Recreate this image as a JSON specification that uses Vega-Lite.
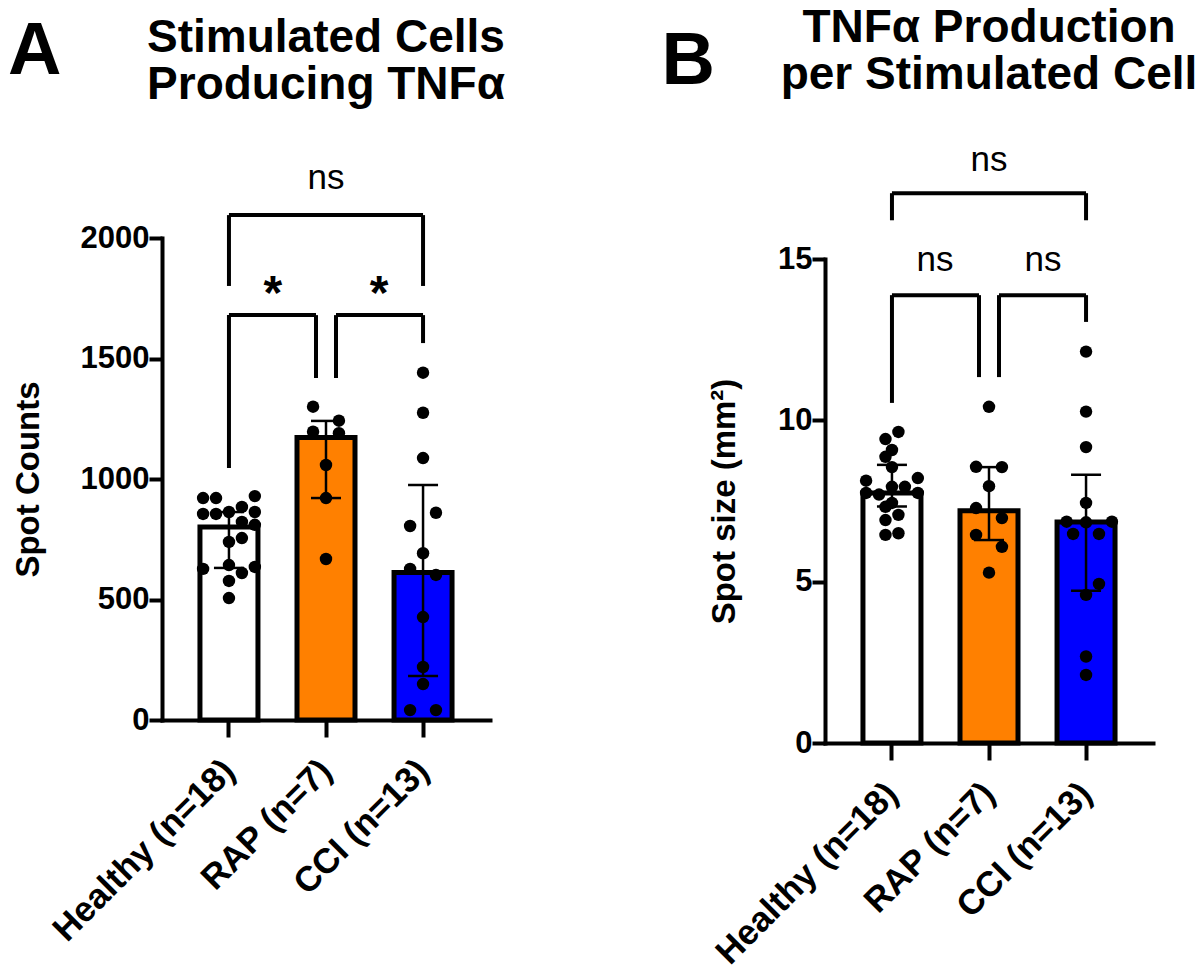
{
  "$schema": "https://vega.github.io/schema/vega-lite/v6.json",
  "padding": {"left": 8, "top": 3, "right": 5, "bottom": 5},
  "background": "white",
  "datasets": {
    "barsA": [
      {"group": "Healthy (n=18)", "median": 801, "lo": 631, "hi": 863},
      {"group": "RAP (n=7)", "median": 1172, "lo": 921, "hi": 1241},
      {"group": "CCI (n=13)", "median": 612, "lo": 183, "hi": 975}
    ],
    "pointsA": [
      {"group": "Healthy (n=18)", "value": 921, "col": -4},
      {"group": "Healthy (n=18)", "value": 921, "col": -2},
      {"group": "Healthy (n=18)", "value": 929, "col": 4},
      {"group": "Healthy (n=18)", "value": 855, "col": -4},
      {"group": "Healthy (n=18)", "value": 855, "col": -2},
      {"group": "Healthy (n=18)", "value": 863, "col": 0},
      {"group": "Healthy (n=18)", "value": 884, "col": 2},
      {"group": "Healthy (n=18)", "value": 863, "col": 4},
      {"group": "Healthy (n=18)", "value": 822, "col": 2},
      {"group": "Healthy (n=18)", "value": 810, "col": 4},
      {"group": "Healthy (n=18)", "value": 739, "col": 0},
      {"group": "Healthy (n=18)", "value": 755, "col": 2},
      {"group": "Healthy (n=18)", "value": 627, "col": -4},
      {"group": "Healthy (n=18)", "value": 643, "col": 0},
      {"group": "Healthy (n=18)", "value": 610, "col": 2},
      {"group": "Healthy (n=18)", "value": 635, "col": 4},
      {"group": "Healthy (n=18)", "value": 577, "col": 0},
      {"group": "Healthy (n=18)", "value": 506, "col": 0},
      {"group": "RAP (n=7)", "value": 1300, "col": -2},
      {"group": "RAP (n=7)", "value": 1242, "col": 2},
      {"group": "RAP (n=7)", "value": 1196, "col": -2},
      {"group": "RAP (n=7)", "value": 1190, "col": 2},
      {"group": "RAP (n=7)", "value": 1058, "col": 0},
      {"group": "RAP (n=7)", "value": 921, "col": 0},
      {"group": "RAP (n=7)", "value": 668, "col": 0},
      {"group": "CCI (n=13)", "value": 1441, "col": 0},
      {"group": "CCI (n=13)", "value": 1275, "col": 0},
      {"group": "CCI (n=13)", "value": 1087, "col": 0},
      {"group": "CCI (n=13)", "value": 860, "col": 2},
      {"group": "CCI (n=13)", "value": 805, "col": -2},
      {"group": "CCI (n=13)", "value": 692, "col": 0},
      {"group": "CCI (n=13)", "value": 627, "col": -2},
      {"group": "CCI (n=13)", "value": 602, "col": 2},
      {"group": "CCI (n=13)", "value": 427, "col": 0},
      {"group": "CCI (n=13)", "value": 220, "col": 0},
      {"group": "CCI (n=13)", "value": 149, "col": 0},
      {"group": "CCI (n=13)", "value": 41, "col": -2},
      {"group": "CCI (n=13)", "value": 41, "col": 2}
    ],
    "hlinesA": [
      {"pair": "H-C", "group": "Healthy (n=18)", "group2": "CCI (n=13)", "top": 2095},
      {"pair": "H-R", "group": "Healthy (n=18)", "group2": "RAP (n=7)", "top": 1680},
      {"pair": "R-C", "group": "RAP (n=7)", "group2": "CCI (n=13)", "top": 1680}
    ],
    "vlinesA": [
      {"pair": "H-C", "group": "Healthy (n=18)", "top": 2095, "end": 1801},
      {"pair": "H-C", "group": "CCI (n=13)", "top": 2095, "end": 1801},
      {"pair": "H-R", "group": "Healthy (n=18)", "top": 1680, "end": 1046},
      {"pair": "H-R", "group": "RAP (n=7)", "top": 1680, "end": 1419},
      {"pair": "R-C", "group": "RAP (n=7)", "top": 1680, "end": 1419},
      {"pair": "R-C", "group": "CCI (n=13)", "top": 1680, "end": 1564}
    ],
    "labelsA": [
      {"pair": "H-C", "group": "RAP (n=7)", "label": "ns", "y": 2249},
      {"pair": "H-R", "group": "Healthy (n=18)", "label": "*", "y": 1805},
      {"pair": "R-C", "group": "CCI (n=13)", "label": "*", "y": 1805}
    ],
    "barsB": [
      {"group": "Healthy (n=18)", "median": 7.75, "lo": 7.33, "hi": 8.62},
      {"group": "RAP (n=7)", "median": 7.2, "lo": 6.29, "hi": 8.55},
      {"group": "CCI (n=13)", "median": 6.85, "lo": 4.72, "hi": 8.31}
    ],
    "pointsB": [
      {"group": "Healthy (n=18)", "value": 9.64, "col": 1},
      {"group": "Healthy (n=18)", "value": 9.42, "col": -1},
      {"group": "Healthy (n=18)", "value": 9.08, "col": 0},
      {"group": "Healthy (n=18)", "value": 8.87, "col": -1},
      {"group": "Healthy (n=18)", "value": 8.55, "col": 0},
      {"group": "Healthy (n=18)", "value": 8.21, "col": 4},
      {"group": "Healthy (n=18)", "value": 8.13, "col": -4},
      {"group": "Healthy (n=18)", "value": 7.94, "col": 0},
      {"group": "Healthy (n=18)", "value": 7.94, "col": 2},
      {"group": "Healthy (n=18)", "value": 7.75, "col": -4},
      {"group": "Healthy (n=18)", "value": 7.75, "col": 4},
      {"group": "Healthy (n=18)", "value": 7.7, "col": -2},
      {"group": "Healthy (n=18)", "value": 7.44, "col": 0},
      {"group": "Healthy (n=18)", "value": 7.32, "col": -1},
      {"group": "Healthy (n=18)", "value": 7.07, "col": 1},
      {"group": "Healthy (n=18)", "value": 6.91, "col": -1},
      {"group": "Healthy (n=18)", "value": 6.5, "col": 1},
      {"group": "Healthy (n=18)", "value": 6.45, "col": -1},
      {"group": "RAP (n=7)", "value": 10.42, "col": 0},
      {"group": "RAP (n=7)", "value": 8.56, "col": -2},
      {"group": "RAP (n=7)", "value": 8.55, "col": 2},
      {"group": "RAP (n=7)", "value": 7.96, "col": 0},
      {"group": "RAP (n=7)", "value": 7.28, "col": -2},
      {"group": "RAP (n=7)", "value": 6.97, "col": 2},
      {"group": "RAP (n=7)", "value": 6.45, "col": -2},
      {"group": "RAP (n=7)", "value": 6.08, "col": 2},
      {"group": "RAP (n=7)", "value": 5.28, "col": 0},
      {"group": "CCI (n=13)", "value": 12.13, "col": 0},
      {"group": "CCI (n=13)", "value": 10.27, "col": 0},
      {"group": "CCI (n=13)", "value": 9.17, "col": 0},
      {"group": "CCI (n=13)", "value": 7.44, "col": 0},
      {"group": "CCI (n=13)", "value": 6.86, "col": -3},
      {"group": "CCI (n=13)", "value": 6.84, "col": 0},
      {"group": "CCI (n=13)", "value": 6.86, "col": 4},
      {"group": "CCI (n=13)", "value": 6.48, "col": -2},
      {"group": "CCI (n=13)", "value": 6.48, "col": 2},
      {"group": "CCI (n=13)", "value": 4.93, "col": 2},
      {"group": "CCI (n=13)", "value": 4.59, "col": 0},
      {"group": "CCI (n=13)", "value": 2.68, "col": 0},
      {"group": "CCI (n=13)", "value": 2.11, "col": 0}
    ],
    "hlinesB": [
      {"pair": "H-C", "group": "Healthy (n=18)", "group2": "CCI (n=13)", "top": 17.04},
      {"pair": "H-R", "group": "Healthy (n=18)", "group2": "RAP (n=7)", "top": 13.88},
      {"pair": "R-C", "group": "RAP (n=7)", "group2": "CCI (n=13)", "top": 13.88}
    ],
    "vlinesB": [
      {"pair": "H-C", "group": "Healthy (n=18)", "top": 17.04, "end": 16.2},
      {"pair": "H-C", "group": "CCI (n=13)", "top": 17.04, "end": 16.2},
      {"pair": "H-R", "group": "Healthy (n=18)", "top": 13.88, "end": 10.54},
      {"pair": "H-R", "group": "RAP (n=7)", "top": 13.88, "end": 11.34},
      {"pair": "R-C", "group": "RAP (n=7)", "top": 13.88, "end": 11.34},
      {"pair": "R-C", "group": "CCI (n=13)", "top": 13.88, "end": 13.05}
    ],
    "labelsB": [
      {"pair": "H-C", "group": "RAP (n=7)", "label": "ns", "y": 18.07},
      {"pair": "H-R", "group": "Healthy (n=18)", "label": "ns", "y": 14.97},
      {"pair": "R-C", "group": "CCI (n=13)", "label": "ns", "y": 14.97}
    ],
    "empty": []
  },
  "hconcat": [
    {
      "title": {"text": "A", "anchor": "start", "frame": "bounds", "fontSize": 74, "offset": -87, "dx": -4},
      "spacing": 0,
      "vconcat": [
        {"data": {"name": "empty"}, "mark": {"type": "point", "opacity": 0}, "width": 328, "height": 11},
        {
          "title": {"text": ["Stimulated Cells", "Producing TNFα"], "anchor": "middle", "frame": "group", "fontSize": 46, "lineHeight": 47, "offset": 52},
          "width": 328,
          "height": 482,
          "encoding": {
            "x": {
              "field": "group",
              "type": "nominal",
              "scale": {"domain": ["Healthy (n=18)", "RAP (n=7)", "CCI (n=13)"], "paddingInner": 0.4, "paddingOuter": 0.39},
              "axis": {"title": null}
            }
          },
          "layer": [
            {
              "data": {"name": "barsA"},
              "mark": {"type": "bar", "stroke": "black", "strokeWidth": 5, "width": 58},
              "encoding": {
                "y": {
                  "field": "median",
                  "type": "quantitative",
                  "scale": {"domain": [0, 2000], "nice": false},
                  "axis": {"values": [0, 500, 1000, 1500, 2000], "format": "d", "title": "Spot Counts", "titlePadding": 35}
                },
                "fill": {
                  "field": "group",
                  "type": "nominal",
                  "scale": {"domain": ["Healthy (n=18)", "RAP (n=7)", "CCI (n=13)"], "range": ["#ffffff", "#ff8000", "#0000ff"]},
                  "legend": null
                }
              }
            },
            {
              "data": {"name": "pointsA"},
              "mark": {"type": "circle", "size": 155, "color": "black", "opacity": 1},
              "encoding": {
                "y": {"field": "value", "type": "quantitative"},
                "xOffset": {"field": "col", "type": "quantitative", "scale": {"domain": [-4.5, 4.5]}}
              }
            },
            {
              "data": {"name": "barsA"},
              "mark": {"type": "rule", "color": "black", "strokeWidth": 2.5},
              "encoding": {"y": {"field": "lo", "type": "quantitative"}, "y2": {"field": "hi"}}
            },
            {
              "data": {"name": "barsA"},
              "mark": {"type": "tick", "color": "black", "size": 30, "thickness": 2.5, "opacity": 1},
              "encoding": {"y": {"field": "lo", "type": "quantitative"}}
            },
            {
              "data": {"name": "barsA"},
              "mark": {"type": "tick", "color": "black", "size": 30, "thickness": 2.5, "opacity": 1},
              "encoding": {"y": {"field": "hi", "type": "quantitative"}}
            },
            {
              "data": {"name": "hlinesA"},
              "transform": [{"filter": "datum.pair == 'H-C'"}],
              "mark": {"type": "rule", "color": "black", "strokeWidth": 4},
              "encoding": {"x2": {"field": "group2"}, "y": {"field": "top", "type": "quantitative"}}
            },
            {
              "data": {"name": "hlinesA"},
              "transform": [{"filter": "datum.pair == 'H-R'"}],
              "mark": {"type": "rule", "color": "black", "strokeWidth": 4, "x2Offset": -10},
              "encoding": {"x2": {"field": "group2"}, "y": {"field": "top", "type": "quantitative"}}
            },
            {
              "data": {"name": "hlinesA"},
              "transform": [{"filter": "datum.pair == 'R-C'"}],
              "mark": {"type": "rule", "color": "black", "strokeWidth": 4, "xOffset": 10},
              "encoding": {"x2": {"field": "group2"}, "y": {"field": "top", "type": "quantitative"}}
            },
            {
              "data": {"name": "vlinesA"},
              "transform": [{"filter": "datum.group != 'RAP (n=7)'"}],
              "mark": {"type": "rule", "color": "black", "strokeWidth": 4},
              "encoding": {"y": {"field": "top", "type": "quantitative"}, "y2": {"field": "end"}}
            },
            {
              "data": {"name": "vlinesA"},
              "transform": [{"filter": "datum.group == 'RAP (n=7)' && datum.pair == 'H-R'"}],
              "mark": {"type": "rule", "color": "black", "strokeWidth": 4, "xOffset": -10},
              "encoding": {"y": {"field": "top", "type": "quantitative"}, "y2": {"field": "end"}}
            },
            {
              "data": {"name": "vlinesA"},
              "transform": [{"filter": "datum.group == 'RAP (n=7)' && datum.pair == 'R-C'"}],
              "mark": {"type": "rule", "color": "black", "strokeWidth": 4, "xOffset": 10},
              "encoding": {"y": {"field": "top", "type": "quantitative"}, "y2": {"field": "end"}}
            },
            {
              "data": {"name": "labelsA"},
              "transform": [{"filter": "datum.pair == 'H-C'"}],
              "mark": {"type": "text", "fontSize": 35, "fontWeight": "normal", "baseline": "middle", "color": "black"},
              "encoding": {"y": {"field": "y", "type": "quantitative"}, "text": {"field": "label"}}
            },
            {
              "data": {"name": "labelsA"},
              "transform": [{"filter": "datum.pair == 'H-R'"}],
              "mark": {"type": "text", "fontSize": 48, "fontWeight": "bold", "baseline": "middle", "dx": 44, "dy": 10, "color": "black"},
              "encoding": {"y": {"field": "y", "type": "quantitative"}, "text": {"field": "label"}}
            },
            {
              "data": {"name": "labelsA"},
              "transform": [{"filter": "datum.pair == 'R-C'"}],
              "mark": {"type": "text", "fontSize": 48, "fontWeight": "bold", "baseline": "middle", "dx": -44, "dy": 10, "color": "black"},
              "encoding": {"y": {"field": "y", "type": "quantitative"}, "text": {"field": "label"}}
            }
          ]
        }
      ]
    },
    {
      "title": {"text": "B", "anchor": "start", "frame": "bounds", "fontSize": 74, "offset": -97, "dx": -47},
      "spacing": 0,
      "vconcat": [
        {"data": {"name": "empty"}, "mark": {"type": "point", "opacity": 0}, "width": 328, "height": 1},
        {
          "title": {"text": ["TNFα Production", "per Stimulated Cell"], "anchor": "middle", "frame": "group", "fontSize": 46, "lineHeight": 47, "offset": 44},
          "width": 328,
          "height": 484,
          "encoding": {
            "x": {
              "field": "group",
              "type": "nominal",
              "scale": {"domain": ["Healthy (n=18)", "RAP (n=7)", "CCI (n=13)"], "paddingInner": 0.4, "paddingOuter": 0.39},
              "axis": {"title": null}
            }
          },
          "layer": [
            {
              "data": {"name": "barsB"},
              "mark": {"type": "bar", "stroke": "black", "strokeWidth": 5, "width": 58},
              "encoding": {
                "y": {
                  "field": "median",
                  "type": "quantitative",
                  "scale": {"domain": [0, 15], "nice": false},
                  "axis": {"values": [0, 5, 10, 15], "title": "Spot size  (mm²)", "titlePadding": 36}
                },
                "fill": {
                  "field": "group",
                  "type": "nominal",
                  "scale": {"domain": ["Healthy (n=18)", "RAP (n=7)", "CCI (n=13)"], "range": ["#ffffff", "#ff8000", "#0000ff"]},
                  "legend": null
                }
              }
            },
            {
              "data": {"name": "pointsB"},
              "mark": {"type": "circle", "size": 155, "color": "black", "opacity": 1},
              "encoding": {
                "y": {"field": "value", "type": "quantitative"},
                "xOffset": {"field": "col", "type": "quantitative", "scale": {"domain": [-4.5, 4.5]}}
              }
            },
            {
              "data": {"name": "barsB"},
              "mark": {"type": "rule", "color": "black", "strokeWidth": 2.5},
              "encoding": {"y": {"field": "lo", "type": "quantitative"}, "y2": {"field": "hi"}}
            },
            {
              "data": {"name": "barsB"},
              "mark": {"type": "tick", "color": "black", "size": 30, "thickness": 2.5, "opacity": 1},
              "encoding": {"y": {"field": "lo", "type": "quantitative"}}
            },
            {
              "data": {"name": "barsB"},
              "mark": {"type": "tick", "color": "black", "size": 30, "thickness": 2.5, "opacity": 1},
              "encoding": {"y": {"field": "hi", "type": "quantitative"}}
            },
            {
              "data": {"name": "hlinesB"},
              "transform": [{"filter": "datum.pair == 'H-C'"}],
              "mark": {"type": "rule", "color": "black", "strokeWidth": 4},
              "encoding": {"x2": {"field": "group2"}, "y": {"field": "top", "type": "quantitative"}}
            },
            {
              "data": {"name": "hlinesB"},
              "transform": [{"filter": "datum.pair == 'H-R'"}],
              "mark": {"type": "rule", "color": "black", "strokeWidth": 4, "x2Offset": -10},
              "encoding": {"x2": {"field": "group2"}, "y": {"field": "top", "type": "quantitative"}}
            },
            {
              "data": {"name": "hlinesB"},
              "transform": [{"filter": "datum.pair == 'R-C'"}],
              "mark": {"type": "rule", "color": "black", "strokeWidth": 4, "xOffset": 10},
              "encoding": {"x2": {"field": "group2"}, "y": {"field": "top", "type": "quantitative"}}
            },
            {
              "data": {"name": "vlinesB"},
              "transform": [{"filter": "datum.group != 'RAP (n=7)'"}],
              "mark": {"type": "rule", "color": "black", "strokeWidth": 4},
              "encoding": {"y": {"field": "top", "type": "quantitative"}, "y2": {"field": "end"}}
            },
            {
              "data": {"name": "vlinesB"},
              "transform": [{"filter": "datum.group == 'RAP (n=7)' && datum.pair == 'H-R'"}],
              "mark": {"type": "rule", "color": "black", "strokeWidth": 4, "xOffset": -10},
              "encoding": {"y": {"field": "top", "type": "quantitative"}, "y2": {"field": "end"}}
            },
            {
              "data": {"name": "vlinesB"},
              "transform": [{"filter": "datum.group == 'RAP (n=7)' && datum.pair == 'R-C'"}],
              "mark": {"type": "rule", "color": "black", "strokeWidth": 4, "xOffset": 10},
              "encoding": {"y": {"field": "top", "type": "quantitative"}, "y2": {"field": "end"}}
            },
            {
              "data": {"name": "labelsB"},
              "transform": [{"filter": "datum.pair == 'H-C'"}],
              "mark": {"type": "text", "fontSize": 35, "fontWeight": "normal", "baseline": "middle", "color": "black"},
              "encoding": {"y": {"field": "y", "type": "quantitative"}, "text": {"field": "label"}}
            },
            {
              "data": {"name": "labelsB"},
              "transform": [{"filter": "datum.pair == 'H-R'"}],
              "mark": {"type": "text", "fontSize": 35, "fontWeight": "normal", "baseline": "middle", "dx": 43, "color": "black"},
              "encoding": {"y": {"field": "y", "type": "quantitative"}, "text": {"field": "label"}}
            },
            {
              "data": {"name": "labelsB"},
              "transform": [{"filter": "datum.pair == 'R-C'"}],
              "mark": {"type": "text", "fontSize": 35, "fontWeight": "normal", "baseline": "middle", "dx": -43, "color": "black"},
              "encoding": {"y": {"field": "y", "type": "quantitative"}, "text": {"field": "label"}}
            }
          ]
        }
      ]
    }
  ],
  "spacing": 156,
  "config": {
    "font": "Liberation Sans",
    "view": {"stroke": null},
    "title": {"font": "Liberation Sans", "fontWeight": "bold", "color": "black"},
    "text": {"font": "Liberation Sans"},
    "axis": {
      "grid": false,
      "domainColor": "black",
      "domainWidth": 4,
      "domainCap": "square",
      "tickColor": "black",
      "tickWidth": 4,
      "tickSize": 17,
      "labelColor": "black",
      "labelFont": "Liberation Sans",
      "labelFontWeight": "bold",
      "labelFontSize": 31,
      "labelLimit": 0,
      "titleColor": "black",
      "titleFont": "Liberation Sans",
      "titleFontWeight": "bold",
      "titleFontSize": 33
    },
    "axisX": {"labelAngle": -45, "labelAlign": "right", "labelBaseline": "middle", "labelPadding": 28, "labelFontSize": 35},
    "axisY": {"labelPadding": 0, "tickSize": 13}
  }
}
